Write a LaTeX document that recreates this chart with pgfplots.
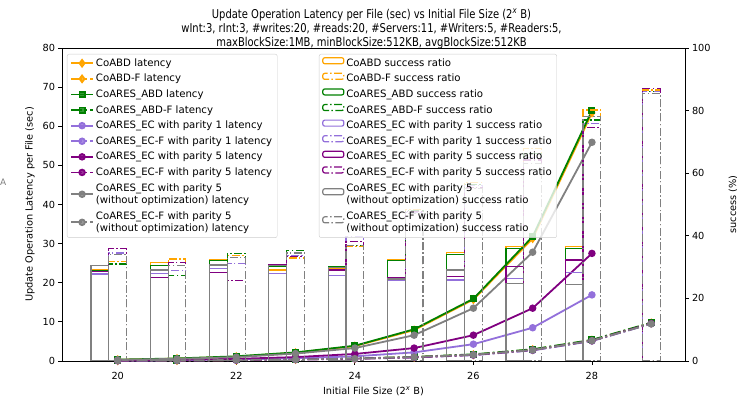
\documentclass[border=0pt]{standalone}
\usepackage{pgfplots}
\pgfplotsset{compat=1.18}
\usepackage{fontspec}
\setmainfont{DejaVu Sans}
\newfontfamily\titlefont[FakeStretch=0.82]{DejaVu Sans}
\definecolor{cOrange}{HTML}{FFA500}
\definecolor{cGreen}{HTML}{008000}
\definecolor{cLP}{HTML}{9370DB}
\definecolor{cPurple}{HTML}{800080}
\definecolor{cGray}{HTML}{808080}
\definecolor{cFrame}{HTML}{CCCCCC}
\pgfplotsset{
  lineleg/.style={legend image code/.code={\draw[mark repeat=2,mark phase=2,##1] plot coordinates {(0bp,0bp) (11bp,0bp) (22bp,0bp)};}},
  barleg/.style={legend image code/.code={\draw[##1,/tikz/.cd] (0bp,-0.5bp) rectangle (21bp,5.5bp);}},
  ln/.style={line width=1.8bp, mark size=2.8bp, lineleg},
  lnF/.style={line width=1.8bp, mark size=2.8bp, dash pattern=on 11bp off 3bp on 2bp off 3bp, mark options={solid}, lineleg},
  br/.style={ybar, bar width=0.3, bar shift=0pt, fill=none, line width=1.2bp, barleg},
  brF/.style={ybar, bar width=0.3, bar shift=0pt, fill=none, line width=1.2bp, dash pattern=on 8bp off 2.4bp on 1.5bp off 2.4bp, barleg},
  commonax/.style={
    at={(0,0)}, anchor=south west, scale only axis, width=623bp, height=313bp,
    xmin=19.06, xmax=29.57,
    tick align=outside, major tick length=3.5bp,
    tick style={black, line width=0.8bp},
    axis line style={line width=0.8bp},
    ticklabel style={font=\fontsize{9.8}{11}\selectfont},
    /pgf/number format/assume math mode=true,
    label style={font=\fontsize{9.8}{11}\selectfont},
    legend cell align=left,
    legend style={anchor=north west, draw=cFrame, rounded corners=2bp, fill=white, fill opacity=0.8, text opacity=1, draw opacity=1,
      font=\fontsize{10.2}{12.5}\selectfont, row sep=2.4bp, inner xsep=3bp, inner ysep=2.5bp,
      cells={anchor=west, align=left}},
  },
}
\begin{document}
\begin{tikzpicture}
\path[use as bounding box] (-62bp,-36bp) rectangle (675bp,361bp);
\begin{axis}[commonax,
  ymin=0, ymax=80,
  xtick={20,22,24,26,28}, ytick={0,10,...,80},
  xtick pos=bottom, ytick pos=left,
  xticklabel style={yshift=-4bp},
  xlabel={Initial File Size (2\textsuperscript{\itshape x} B)},
  xlabel style={at={(axis description cs:0.5,0)}, anchor=center, yshift=-30bp},
  ylabel={Update Operation Latency per File (sec)},
  ylabel style={at={(axis description cs:-0.0514,0.5)}, anchor=center},
  legend style={at={(axis description cs:0.008,0.981)}},
]
\addplot[ln, color=cOrange, mark=diamond*, mark size=3.3bp] coordinates {(20,0.3) (21,0.6) (22,1.1) (23,2.1) (24,3.8) (25,7.9) (26,15.7) (27,31.3) (28,63.4)};
\addlegendentry{CoABD latency}
\addplot[lnF, color=cOrange, mark=diamond*, mark size=3.3bp] coordinates {(20,0.1) (21,0.15) (22,0.25) (23,0.4) (24,0.6) (25,1.0) (26,1.6) (27,2.9) (28,5.3) (29,9.7)};
\addlegendentry{CoABD-F latency}
\addplot[ln, color=cGreen, mark=square*, mark size=2.6bp] coordinates {(20,0.35) (21,0.65) (22,1.2) (23,2.2) (24,3.9) (25,8.1) (26,15.9) (27,31.8) (28,64.0)};
\addlegendentry{CoARES\_ABD latency}
\addplot[lnF, color=cGreen, mark=square*, mark size=2.6bp] coordinates {(20,0.12) (21,0.17) (22,0.28) (23,0.45) (24,0.65) (25,1.05) (26,1.7) (27,3.0) (28,5.4) (29,9.8)};
\addlegendentry{CoARES\_ABD-F latency}
\addplot[ln, color=cLP, mark=*] coordinates {(20,0.1) (21,0.2) (22,0.4) (23,0.7) (24,1.2) (25,2.2) (26,4.3) (27,8.5) (28,16.9)};
\addlegendentry{CoARES\_EC with parity 1 latency}
\addplot[lnF, color=cLP, mark=*] coordinates {(20,0.08) (21,0.12) (22,0.2) (23,0.35) (24,0.55) (25,0.9) (26,1.5) (27,2.7) (28,5.1) (29,9.5)};
\addlegendentry{CoARES\_EC-F with parity 1 latency}
\addplot[ln, color=cPurple, mark=*] coordinates {(20,0.15) (21,0.3) (22,0.55) (23,1.0) (24,1.8) (25,3.3) (26,6.6) (27,13.5) (28,27.5)};
\addlegendentry{CoARES\_EC with parity 5 latency}
\addplot[lnF, color=cPurple, mark=*] coordinates {(20,0.09) (21,0.14) (22,0.22) (23,0.38) (24,0.58) (25,0.95) (26,1.55) (27,2.8) (28,5.2) (29,9.6)};
\addlegendentry{CoARES\_EC-F with parity 5 latency}
\addplot[ln, color=cGray, mark=*] coordinates {(20,0.3) (21,0.55) (22,1.0) (23,1.9) (24,3.3) (25,6.6) (26,13.5) (27,27.8) (28,55.9)};
\addlegendentry{CoARES\_EC with parity 5\\(without optimization) latency}
\addplot[lnF, color=cGray, mark=*] coordinates {(20,0.1) (21,0.15) (22,0.25) (23,0.4) (24,0.6) (25,1.0) (26,1.6) (27,2.8) (28,5.2) (29,9.5)};
\addlegendentry{CoARES\_EC-F with parity 5\\(without optimization) latency}
\end{axis}
\begin{axis}[commonax,
  ymin=0, ymax=100, ytick={0,20,...,100},
  axis x line=none, axis y line*=right,
  ylabel={success (\%)},
  ylabel style={at={(axis description cs:1.077,0.5)}, anchor=center},
  legend style={at={(axis description cs:0.4125,0.981)}},
]
\addplot[br, draw=cOrange] coordinates {(19.7,29.3) (20.7,31.4) (21.7,32.5) (22.7,29.1) (23.7,29.6) (24.7,32.4) (25.7,34.7) (26.7,36.5) (27.7,36.7)};
\addlegendentry{CoABD success ratio}
\addplot[brF, draw=cOrange] coordinates {(20,31.7) (21,32.6) (22,33.7) (23,32.9) (24,36.5) (25,48.5) (26,57.0) (27,68.0) (28,80.2) (29,86.6)};
\addlegendentry{CoABD-F success ratio}
\addplot[br, draw=cGreen] coordinates {(19.7,29.0) (20.7,30.4) (21.7,32.2) (22.7,30.2) (23.7,30.1) (24.7,32.0) (25.7,33.9) (26.7,36.0) (27.7,36.0)};
\addlegendentry{CoARES\_ABD success ratio}
\addplot[brF, draw=cGreen] coordinates {(20,31.0) (21,27.2) (22,34.4) (23,35.2) (24,36.8) (25,48.0) (26,56.5) (27,66.3) (28,77.0) (29,86.0)};
\addlegendentry{CoARES\_ABD-F success ratio}
\addplot[br, draw=cLP] coordinates {(19.7,27.8) (20.7,28.0) (21.7,29.5) (22.7,28.0) (23.7,27.3) (24.7,25.8) (25.7,25.9) (26.7,26.4) (27.7,28.3)};
\addlegendentry{CoARES\_EC with parity 1 success ratio}
\addplot[brF, draw=cLP] coordinates {(20,34.5) (21,28.8) (22,31.1) (23,33.7) (24,39.7) (25,47.5) (26,56.0) (27,65.0) (28,76.0) (29,86.2)};
\addlegendentry{CoARES\_EC-F with parity 1 success ratio}
\addplot[br, draw=cPurple] coordinates {(19.7,28.5) (20.7,26.6) (21.7,28.2) (22.7,30.7) (23.7,29.1) (24.7,26.7) (25.7,26.9) (26.7,30.1) (27.7,32.3)};
\addlegendentry{CoARES\_EC with parity 5 success ratio}
\addplot[brF, draw=cPurple] coordinates {(20,36.0) (21,31.5) (22,25.6) (23,33.3) (24,38.1) (25,47.8) (26,55.5) (27,64.2) (28,74.6) (29,87.1)};
\addlegendentry{CoARES\_EC-F with parity 5 success ratio}
\addplot[br, draw=cGray] coordinates {(19.7,30.4) (20.7,29.1) (21.7,30.7) (22.7,30.6) (23.7,29.8) (24.7,26.2) (25.7,29.1) (26.7,24.8) (27.7,24.5)};
\addlegendentry{CoARES\_EC with parity 5\\(without optimization) success ratio}
\addplot[brF, draw=cGray] coordinates {(20,33.9) (21,30.5) (22,33.0) (23,34.5) (24,37.0) (25,47.0) (26,55.0) (27,63.2) (28,78.0) (29,85.5)};
\addlegendentry{CoARES\_EC-F with parity 5\\(without optimization) success ratio}
\end{axis}
\node[font=\titlefont\fontsize{12.2}{14.5}\selectfont, align=center, anchor=south] at (309.5bp,308bp) {Update Operation Latency per File (sec) vs Initial File Size (2\textsuperscript{\itshape x} B)\\wInt:3, rInt:3, \#writes:20, \#reads:20, \#Servers:11, \#Writers:5, \#Readers:5,\\maxBlockSize:1MB, minBlockSize:512KB, avgBlockSize:512KB};
\node[font=\fontsize{9}{10}\selectfont, text=cGray, anchor=west, inner sep=0pt] at (-62bp,179bp) {A};
\end{tikzpicture}
\end{document}
